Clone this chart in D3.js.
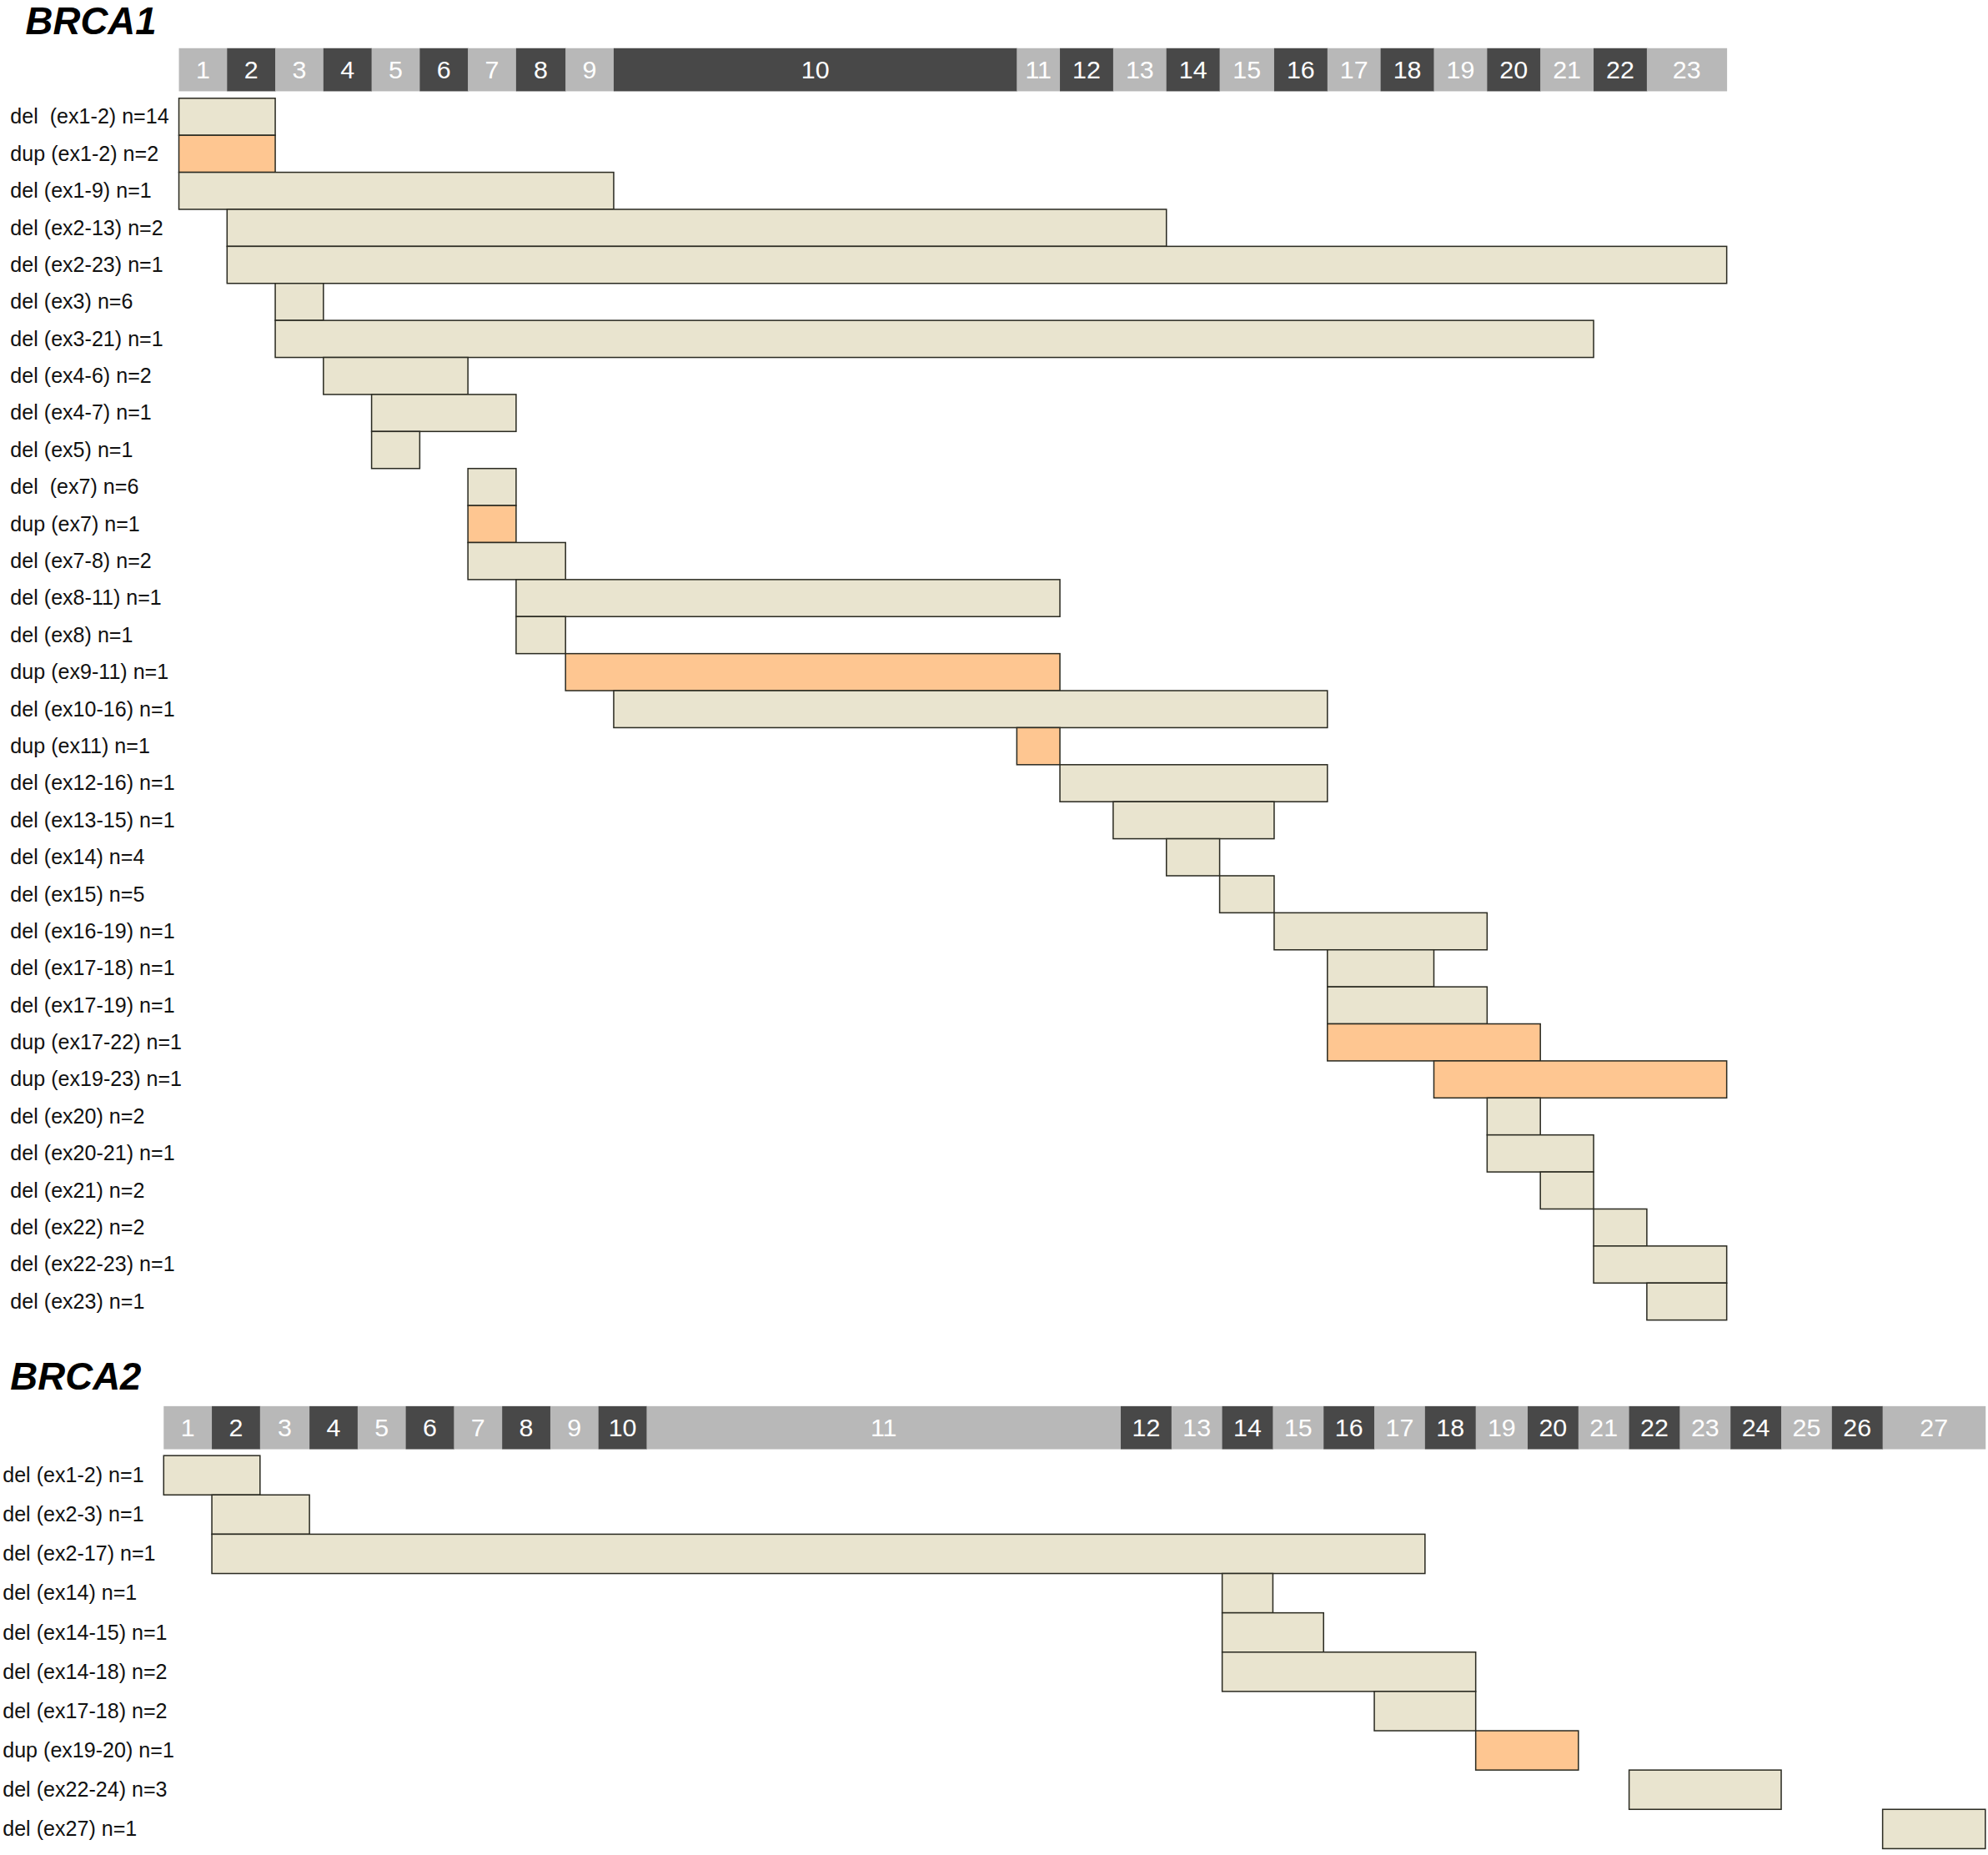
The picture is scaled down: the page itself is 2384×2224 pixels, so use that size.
<!DOCTYPE html>
<html>
<head>
<meta charset="utf-8">
<script src="https://cdn.jsdelivr.net/npm/d3@7"></script>
<style>
  body { margin: 0; background: #fff; }
  text { font-family: "Liberation Sans", Arial, sans-serif; }
</style>
</head>
<body>
<div id="chart"></div>
<script>
// BRCA1 exon relative widths (exon 1..23)
var brca1_exon_widths = [38, 38, 38, 38, 38, 38, 38, 39, 38, 318, 34, 42, 42, 42, 43, 42, 42, 42, 42, 42, 42, 42, 63];
// BRCA2 exon relative widths (exon 1..27)
var brca2_exon_widths = [38, 38, 39, 38, 38, 38, 38, 38, 38, 38, 374, 40, 40, 40, 40, 40, 40, 40, 41, 40, 40, 40, 40, 40, 40, 40, 81];

// BRCA1 rearrangements
var brca1_labels = ["del  (ex1-2) n=14", "dup (ex1-2) n=2", "del (ex1-9) n=1", "del (ex2-13) n=2", "del (ex2-23) n=1",
    "del (ex3) n=6", "del (ex3-21) n=1", "del (ex4-6) n=2", "del (ex4-7) n=1", "del (ex5) n=1",
    "del  (ex7) n=6", "dup (ex7) n=1", "del (ex7-8) n=2", "del (ex8-11) n=1", "del (ex8) n=1",
    "dup (ex9-11) n=1", "del (ex10-16) n=1", "dup (ex11) n=1", "del (ex12-16) n=1", "del (ex13-15) n=1",
    "del (ex14) n=4", "del (ex15) n=5", "del (ex16-19) n=1", "del (ex17-18) n=1", "del (ex17-19) n=1",
    "dup (ex17-22) n=1", "dup (ex19-23) n=1", "del (ex20) n=2", "del (ex20-21) n=1", "del (ex21) n=2",
    "del (ex22) n=2", "del (ex22-23) n=1", "del (ex23) n=1"];
// first and last exon covered by each drawn bar (as drawn in the figure)
var brca1_start = [1, 1, 1, 2, 2, 3, 3, 4, 5, 5, 7, 7, 7, 8, 8, 9, 10, 11, 12, 13, 14, 15, 16, 17, 17, 17, 19, 20, 20, 21, 22, 22, 23];
var brca1_end   = [2, 2, 9, 13, 23, 3, 21, 6, 7, 5, 7, 7, 8, 11, 8, 11, 16, 11, 16, 15, 14, 15, 19, 18, 19, 20, 23, 20, 21, 21, 22, 23, 23];
var brca1_type  = ["del", "dup", "del", "del", "del", "del", "del", "del", "del", "del",
    "del", "dup", "del", "del", "del", "dup", "del", "dup", "del", "del",
    "del", "del", "del", "del", "del", "dup", "dup", "del", "del", "del",
    "del", "del", "del"];

// BRCA2 rearrangements
var brca2_labels = ["del (ex1-2) n=1", "del (ex2-3) n=1", "del (ex2-17) n=1", "del (ex14) n=1", "del (ex14-15) n=1",
    "del (ex14-18) n=2", "del (ex17-18) n=2", "dup (ex19-20) n=1", "del (ex22-24) n=3", "del (ex27) n=1"];
var brca2_start = [1, 2, 2, 14, 14, 14, 17, 19, 22, 27];
var brca2_end   = [2, 3, 17, 14, 15, 18, 18, 20, 24, 27];
var brca2_type  = ["del", "del", "del", "del", "del", "del", "del", "dup", "del", "del"];

var colors = { light: "#b8b8b8", dark: "#484848", del: "#e9e4cf", dup: "#fec691", stroke: "#2b2b22" };

var W = 1568, H = 1463;
var svg = d3.select("#chart").append("svg")
    .attr("width", 2384)
    .attr("height", 2224)
    .attr("viewBox", "0 0 " + W + " " + H);

function draw_gene(cfg) {
    var widths = cfg.widths;
    var ends = Array.from(d3.cumsum(widths));
    var starts = ends.map(function(e, i) { return e - widths[i]; });
    var x = d3.scaleLinear().domain([0, d3.sum(widths)]).range([cfg.x0, cfg.x1]);
    var y = d3.scaleBand().domain(d3.range(cfg.labels.length))
        .range([cfg.rowTop, cfg.rowTop + cfg.rowH * cfg.labels.length]).padding(0);

    svg.append("text")
        .attr("x", cfg.titleX).attr("y", cfg.titleY)
        .attr("font-size", 30).attr("font-style", "italic").attr("font-weight", "bold")
        .attr("fill", "#000")
        .text(cfg.name);

    var ex = svg.append("g").attr("class", "exons");
    ex.selectAll("rect").data(widths).enter().append("rect")
        .attr("x", function(d, i) { return x(starts[i]); })
        .attr("width", function(d, i) { return x(ends[i]) - x(starts[i]) + 0.3; })
        .attr("y", cfg.exonY).attr("height", cfg.exonH)
        .attr("fill", function(d, i) { return (i + 1) % 2 === 0 ? colors.dark : colors.light; });
    ex.selectAll("text").data(widths).enter().append("text")
        .attr("x", function(d, i) { return x((starts[i] + ends[i]) / 2); })
        .attr("y", cfg.exonY + cfg.exonH / 2 + 7)
        .attr("text-anchor", "middle")
        .attr("font-size", 20)
        .attr("fill", "#fff")
        .text(function(d, i) { return i + 1; });

    var rows = d3.range(cfg.labels.length);
    svg.append("g").selectAll("text").data(rows).enter().append("text")
        .attr("x", cfg.labelX)
        .attr("y", function(i) { return y(i) + y.bandwidth() / 2 + 5.5; })
        .attr("font-size", 16.5)
        .style("white-space", "pre")
        .attr("fill", "#111")
        .text(function(i) { return cfg.labels[i]; });

    svg.append("g").selectAll("rect").data(rows).enter().append("rect")
        .attr("x", function(i) { return x(starts[cfg.start[i] - 1]); })
        .attr("width", function(i) { return x(ends[cfg.end[i] - 1]) - x(starts[cfg.start[i] - 1]); })
        .attr("y", function(i) { return y(i); })
        .attr("height", y.bandwidth())
        .attr("fill", function(i) { return colors[cfg.type[i]]; })
        .attr("stroke", colors.stroke)
        .attr("stroke-width", 1);
}

draw_gene({
    name: "BRCA1", titleX: 20, titleY: 27,
    widths: brca1_exon_widths, x0: 141, x1: 1362,
    exonY: 38, exonH: 34,
    labels: brca1_labels, start: brca1_start, end: brca1_end, type: brca1_type,
    labelX: 8, rowTop: 77.5, rowH: 29.2
});

draw_gene({
    name: "BRCA2", titleX: 8, titleY: 1096,
    widths: brca2_exon_widths, x0: 129, x1: 1566,
    exonY: 1109, exonH: 34,
    labels: brca2_labels, start: brca2_start, end: brca2_end, type: brca2_type,
    labelX: 2, rowTop: 1148, rowH: 31
});
</script>
</body>
</html>
